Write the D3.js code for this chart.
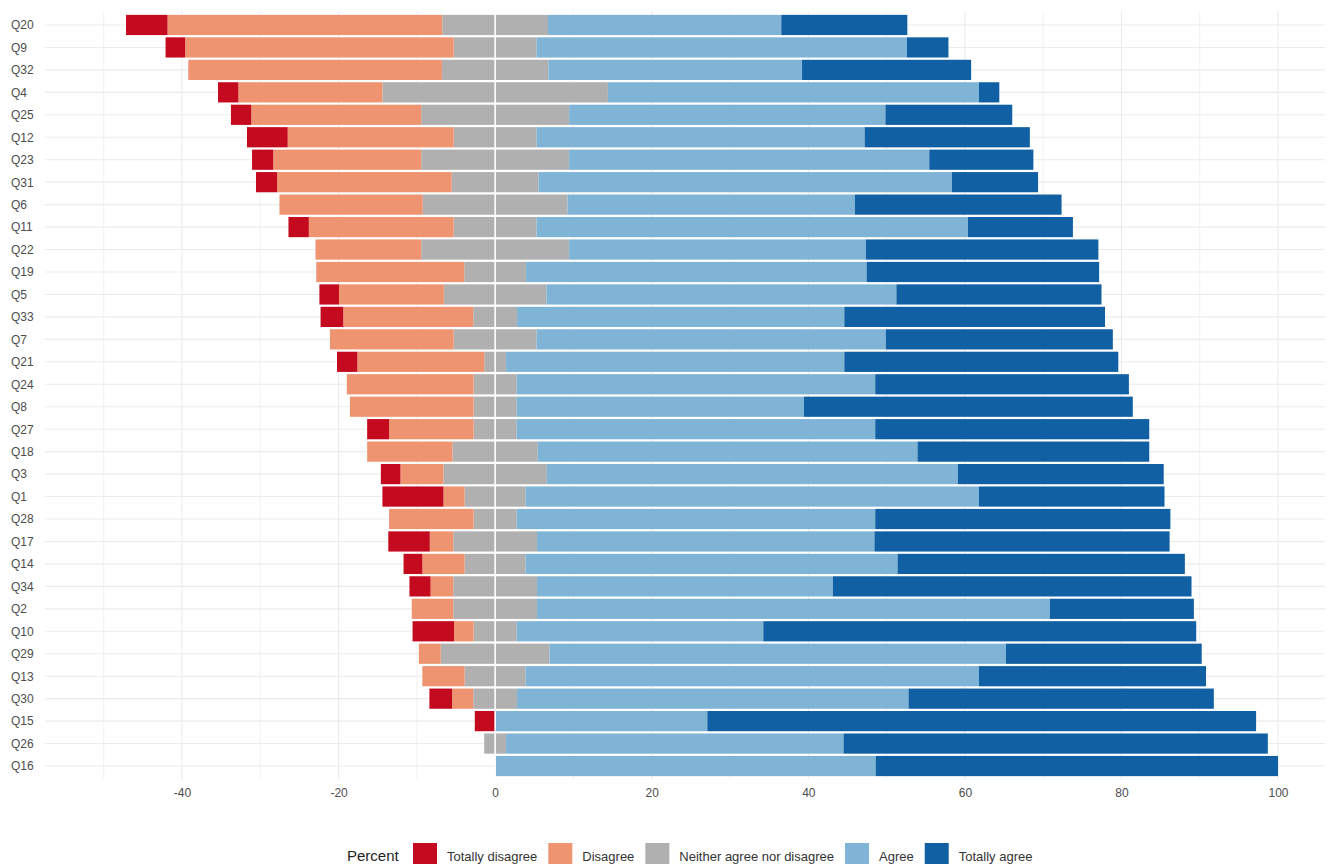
<!DOCTYPE html>
<html>
<head>
<meta charset="utf-8">
<script src="https://cdn.jsdelivr.net/npm/d3@7"></script>
<style>
  html, body { margin: 0; padding: 0; background: #ffffff; }
  svg { display: block; }
  text { font-family: "Liberation Sans", Arial, sans-serif; }
</style>
</head>
<body>
<svg id="chart" width="1330" height="864"></svg>
<script>
// ---- DATA (percent of respondents) ----
const questions = ["Q20","Q9","Q32","Q4","Q25","Q12","Q23","Q31","Q6","Q11","Q22","Q19","Q5","Q33","Q7","Q21","Q24","Q8","Q27","Q18","Q3","Q1","Q28","Q17","Q14","Q34","Q2","Q10","Q29","Q13","Q30","Q15","Q26","Q16"];
const totallyDisagree = [5.3,2.5,0,2.6,2.6,5.2,2.7,2.7,0,2.6,0,0,2.5,2.9,0,2.6,0,0,2.8,0,2.5,7.8,0,5.3,2.4,2.7,0,5.3,0,0,2.9,2.6,0,0];
const disagree        = [35.1,34.3,32.4,18.4,21.7,21.2,18.9,22.3,18.3,18.5,13.5,18.9,13.4,16.6,15.8,16.2,16.2,15.8,10.8,10.9,5.5,2.7,10.8,3.0,5.4,2.9,5.3,2.5,2.8,5.4,2.7,0,0,0];
const neutral         = [13.5,10.6,13.6,28.8,18.9,10.6,18.9,11.1,18.5,10.6,18.9,7.9,13.1,5.6,10.6,2.8,5.5,5.5,5.5,10.9,13.2,7.8,5.5,10.7,7.8,10.7,10.7,5.5,13.9,7.8,5.6,0,2.8,0];
const agree           = [29.8,47.3,32.4,47.4,40.4,41.9,46.0,52.8,36.7,55.1,37.9,43.5,44.7,41.8,44.6,43.2,45.8,36.7,45.8,48.5,52.5,57.9,45.8,43.1,47.5,37.8,65.5,31.5,58.3,57.9,50.0,27.1,43.1,48.6];
const totallyAgree    = [16.1,5.3,21.6,2.6,16.2,21.1,13.3,11.0,26.4,13.4,29.7,29.7,26.2,33.3,29.0,35.0,32.4,42.0,35.0,29.6,26.3,23.7,37.7,37.7,36.7,45.8,18.4,55.3,25.0,29.0,39.0,70.1,54.2,51.4];
const levels = ["Totally disagree","Disagree","Neither agree nor disagree","Agree","Totally agree"];
const levelColors = ["#c30a1f","#ee9470","#b0b0b0","#7fb4d6","#1160a3"];
const xTicks = [-40,-20,0,20,40,60,80,100];
const xTickLabels = ["-40","-20","0","20","40","60","80","100"];
const xMinorTicks = [-50,-30,-10,10,30,50,70,90];

// ---- SCALES ----
const svg = d3.select("#chart");
const panel = {left: 45, right: 1325, top: 11.5, bottom: 779.5};
const x = d3.scaleLinear().domain([-57.5, 106]).range([panel.left, panel.right]);
const y = d3.scalePoint().domain(questions).range([panel.top, panel.bottom]).padding(0.6);
const barH = y.step() * 0.9;
const color = d3.scaleOrdinal().domain(levels).range(levelColors);

// ---- GRID ----
const grid = svg.append("g");
grid.selectAll("line.minor").data(xMinorTicks).join("line")
  .attr("x1", d => x(d)).attr("x2", d => x(d))
  .attr("y1", panel.top).attr("y2", panel.bottom)
  .attr("stroke", "#efefef").attr("stroke-width", 0.8);
grid.selectAll("line.major").data(xTicks).join("line")
  .attr("x1", d => x(d)).attr("x2", d => x(d))
  .attr("y1", panel.top).attr("y2", panel.bottom)
  .attr("stroke", "#ebebeb").attr("stroke-width", 1.1);
grid.selectAll("line.h").data(questions).join("line")
  .attr("x1", panel.left).attr("x2", panel.right)
  .attr("y1", d => y(d)).attr("y2", d => y(d))
  .attr("stroke", "#ebebeb").attr("stroke-width", 1.1);

// ---- SEGMENTS ----
const segs = [];
questions.forEach((q, i) => {
  const n2 = neutral[i] / 2;
  let a = -n2;
  segs.push({q, lvl: levels[2], x0: a, x1: 0});
  segs.push({q, lvl: levels[1], x0: a - disagree[i], x1: a});
  a -= disagree[i];
  segs.push({q, lvl: levels[0], x0: a - totallyDisagree[i], x1: a});
  let b = n2;
  segs.push({q, lvl: levels[2], x0: 0, x1: b});
  segs.push({q, lvl: levels[3], x0: b, x1: b + agree[i]});
  b += agree[i];
  segs.push({q, lvl: levels[4], x0: b, x1: b + totallyAgree[i]});
});
svg.append("g").selectAll("rect").data(segs.filter(s => s.x1 - s.x0 > 0)).join("rect")
  .attr("x", d => x(d.x0))
  .attr("width", d => x(d.x1) - x(d.x0))
  .attr("y", d => y(d.q) - barH / 2)
  .attr("height", barH)
  .attr("fill", d => color(d.lvl));

// zero line
svg.append("line")
  .attr("x1", x(0)).attr("x2", x(0))
  .attr("y1", panel.top).attr("y2", panel.bottom)
  .attr("stroke", "#ffffff").attr("stroke-width", 1.6);

// ---- AXES ----
const xAxis = d3.axisBottom(x).tickValues(xTicks).tickSize(0).tickPadding(0)
  .tickFormat((d, i) => xTickLabels[i]);
const gx = svg.append("g").attr("transform", `translate(0,${panel.bottom})`).call(xAxis);
gx.select(".domain").remove();
gx.selectAll("text").attr("dy", "0").attr("y", 17)
  .attr("font-size", 12).attr("fill", "#4d4d4d")
  .attr("font-family", "'Liberation Sans', Arial, sans-serif");

const yAxis = d3.axisLeft(y).tickSize(0);
const gy = svg.append("g").attr("transform", `translate(${panel.left},0)`).call(yAxis);
gy.select(".domain").remove();
gy.selectAll("text").attr("text-anchor", "start").attr("x", 11 - panel.left)
  .attr("font-size", 12).attr("fill", "#4d4d4d")
  .attr("font-family", "'Liberation Sans', Arial, sans-serif");

// ---- LEGEND ----
const lg = svg.append("g");
lg.append("text").attr("x", 347).attr("y", 861).attr("font-size", 15).attr("fill", "#222")
  .text("Percent");
let lx = 413;
levels.forEach((l, i) => {
  lg.append("rect").attr("x", lx).attr("y", 843).attr("width", 24).attr("height", 24)
    .attr("fill", levelColors[i]);
  const t = lg.append("text").attr("x", lx + 34).attr("y", 861).attr("font-size", 13)
    .attr("fill", "#333").text(l);
  lx = lx + 34 + t.node().getComputedTextLength() + 11;
});
</script>
</body>
</html>
